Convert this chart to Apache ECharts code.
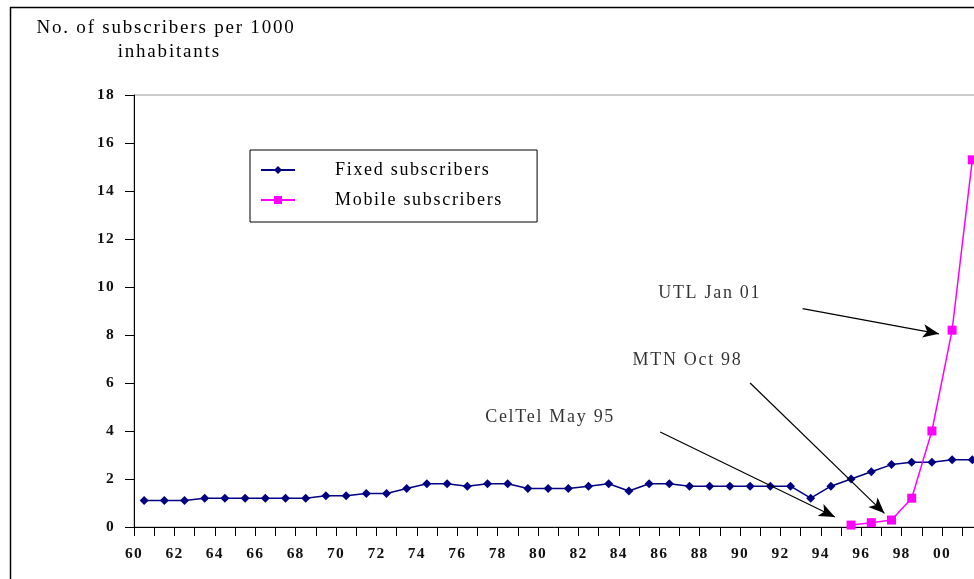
<!DOCTYPE html>
<html><head><meta charset="utf-8">
<script src="https://cdn.jsdelivr.net/npm/echarts@6/dist/echarts.min.js"></script>
<style>html,body{margin:0;padding:0;background:#fff}#c{width:974px;height:579px}</style>
</head><body><div id="c"></div>
<script>
// Years (1900+), plotted at the middle of each year
const years = [60,61,62,63,64,65,66,67,68,69,70,71,72,73,74,75,76,77,78,79,80,81,82,83,84,85,86,87,88,89,90,91,92,93,94,95,96,97,98,99,100,101];
const fixedSubs = [1.1,1.1,1.1,1.2,1.2,1.2,1.2,1.2,1.2,1.3,
                   1.3,1.4,1.4,1.6,1.8,1.8,1.7,1.8,1.8,1.6,
                   1.6,1.6,1.7,1.8,1.5,1.8,1.8,1.7,1.7,1.7,
                   1.7,1.7,1.7,1.2,1.7,2.0,2.3,2.6,2.7,2.7,
                   2.8,2.8];
const mobileYears = [95,96,97,98,99,100,101];
const mobileSubs = [0.08,0.18,0.29,1.2,4.0,8.2,15.3];
// annotations: [label x, label y, text, arrow from x, from y, to x, to y]
const annotations = [
  [88.5, 9.75, 'UTL Jan 01', 93.1, 9.1, 99.85, 8.05],
  [87.4, 6.96, 'MTN Oct 98', 90.5, 6.0, 97.15, 0.57],
  [80.6, 4.58, 'CelTel May 95', 86.05, 3.96, 94.7, 0.42]
];
const yTicks = {min:0, max:18, interval:2};
const xRange = {min:60, max:102};

// Times-like text in the reference is tracked (letter-spaced)
(function(){
  const P = CanvasRenderingContext2D.prototype;
  function setLS(ctx){
    const f = ctx.font || '';
    if (f.indexOf('Liberation Serif') >= 0) {
      ctx.letterSpacing = f.indexOf('bold') >= 0 ? '1.2px' : (f.indexOf('19px') >= 0 ? '1.8px' : '1.7px');
    } else {
      ctx.letterSpacing = '0px';
    }
  }
  ['fillText','strokeText','measureText'].forEach(function(n){
    const orig = P[n];
    P[n] = function(){ try{ setLS(this); }catch(e){} return orig.apply(this, arguments); };
  });
})();

const serif = 'Liberation Serif';
const chart = echarts.init(document.getElementById('c'));
chart.setOption({
  animation:false,
  backgroundColor:'#fff',
  title:{text:'No. of subscribers per 1000\n inhabitants', left:161, top:11, textAlign:'center',
    textStyle:{fontFamily:serif, fontSize:19, fontWeight:'normal', color:'#000', lineHeight:24}},
  graphic:[{type:'rect', shape:{x:10.5,y:7.5,width:1100,height:700}, style:{fill:'none', stroke:'#000', lineWidth:1.5}, silent:true}],
  grid:{left:134, top:95, bottom:52, right:-8.4, outerBoundsMode:'none', containLabel:false,
    show:true, borderColor:'#999', borderWidth:1, backgroundColor:'transparent'},
  legend:{
    orient:'vertical', left:250, top:150,
    backgroundColor:'#fff', borderColor:'#000', borderWidth:1,
    padding:[5,34,7,10], itemGap:0, itemWidth:34, itemHeight:10,
    textStyle:{fontFamily:serif, fontSize:18, color:'#000', padding:[10,0,0,35], lineHeight:20},
    data:['Fixed subscribers','Mobile subscribers']
  },
  xAxis:{type:'value', min:xRange.min, max:xRange.max, interval:1,
    axisLine:{lineStyle:{color:'#000', width:1}},
    axisTick:{show:true, length:9, lineStyle:{color:'#000'}},
    splitLine:{show:false},
    axisLabel:{fontFamily:serif, fontWeight:'bold', fontSize:15.5, color:'#111', margin:18, showMaxLabel:false,
      formatter:v=> v%2===0 ? String(v%100).padStart(2,'0') : ''}
  },
  yAxis:{type:'value', min:yTicks.min, max:yTicks.max, interval:yTicks.interval,
    axisLine:{show:true, lineStyle:{color:'#000', width:1}},
    axisTick:{show:true, length:9, lineStyle:{color:'#000'}},
    splitLine:{show:false},
    axisLabel:{fontFamily:serif, fontWeight:'bold', fontSize:15.5, color:'#111', margin:19}
  },
  series:[
    {name:'Fixed subscribers', type:'line', data:years.map((y,i)=>[y+0.5, fixedSubs[i]]),
      symbol:'diamond', symbolSize:9, color:'#000080', lineStyle:{width:1.5, color:'#000080'},
      itemStyle:{color:'#000080'}, z:3},
    {name:'Mobile subscribers', type:'line', data:mobileYears.map((y,i)=>[y+0.5, mobileSubs[i]]),
      symbol:'rect', symbolSize:9, color:'#ff00ff', lineStyle:{width:1.5, color:'#ff00ff'},
      itemStyle:{color:'#ff00ff'}, z:4},
    {name:'annotations', type:'scatter', symbolSize:0, silent:true,
      data:annotations.map(a=>({value:[a[0],a[1]], label:{formatter:a[2]}})),
      label:{show:true, position:'inside', fontFamily:serif, fontSize:18, color:'#000'},
      markLine:{silent:true, symbol:['none','arrow'], symbolSize:[10,16],
        lineStyle:{color:'#000', width:1.2, type:'solid'}, label:{show:false},
        data:annotations.map(a=>[{coord:[a[3],a[4]]},{coord:[a[5],a[6]]}])}
    }
  ]
});
</script></body></html>
